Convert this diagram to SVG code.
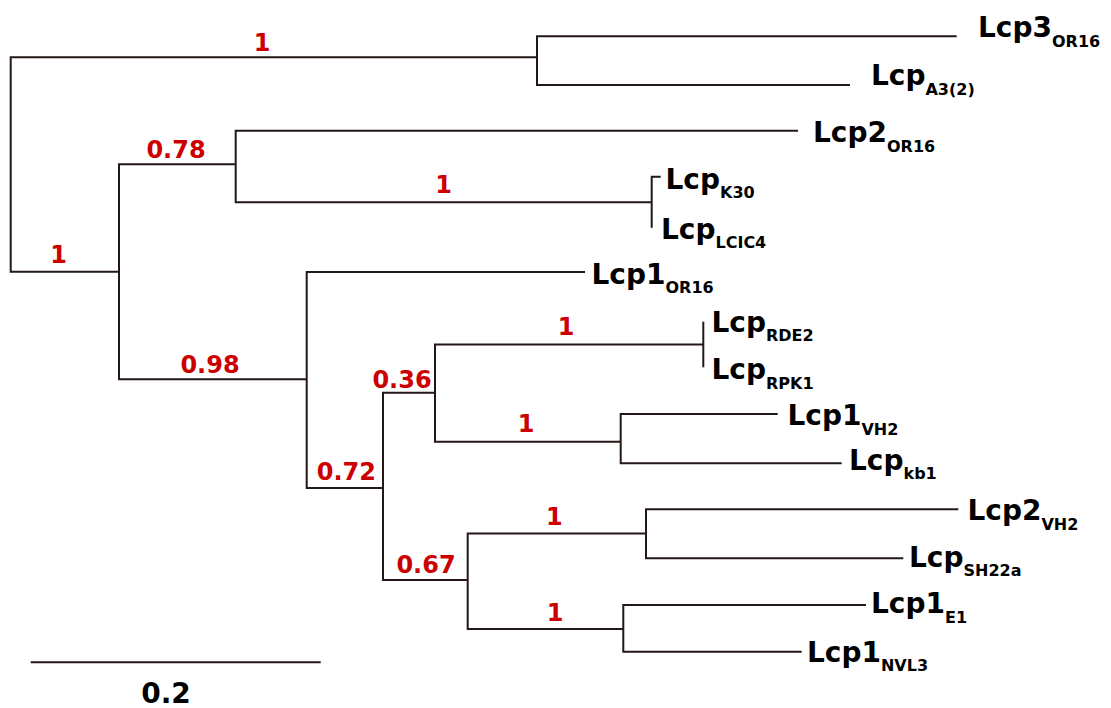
<svg xmlns="http://www.w3.org/2000/svg" width="1111" height="708" viewBox="0 0 1111 708">
  <style>
    .br { fill: none; stroke: #231815; stroke-width: 2; stroke-linejoin: miter; stroke-linecap: butt; }
    .leaf { font-family: "DejaVu Sans", Verdana, sans-serif; font-weight: bold; font-size: 28px; fill: #000; }
    .sub { font-size: 16px; }
    .bs { font-family: "DejaVu Sans", Verdana, sans-serif; font-weight: bold; font-size: 24px; fill: #cc0000; text-anchor: middle; }
    .scale { font-family: "DejaVu Sans", Verdana, sans-serif; font-weight: bold; font-size: 28px; fill: #000; text-anchor: middle; }
  </style>
  <rect width="1111" height="708" fill="#ffffff"/>

  <!-- branches (elbow connectors) -->
  <g id="connectors">
    <path class="br" d="M 537 57.3 H 10.7 V 271.7 H 119"/>
    <path class="br" d="M 956.7 36.3 H 537 V 85 H 850"/>
    <path class="br" d="M 235.7 164.3 H 119 V 379.3 H 306.7"/>
    <path class="br" d="M 798 130.7 H 235.7 V 202.3 H 651.7"/>
    <path class="br" d="M 660.7 176.7 H 651.7 V 227.7"/>
    <path class="br" d="M 585 272 H 306.7 V 488 H 383"/>
    <path class="br" d="M 435 392.7 H 383 V 580 H 467.7"/>
    <path class="br" d="M 703.3 344.5 H 435 V 441.7 H 620.7"/>
    <path class="br" d="M 703.3 321.7 V 367.3"/>
    <path class="br" d="M 777.7 414 H 620.7 V 463.3 H 841.7"/>
    <path class="br" d="M 646 533.5 H 467.7 V 629 H 623.3"/>
    <path class="br" d="M 958.3 509.3 H 646 V 558.3 H 903.3"/>
    <path class="br" d="M 866 605 H 623.3 V 651.7 H 801.7"/>
  </g>

  <!-- internal nodes with support values -->
  <g id="node-root"><text class="bs" x="58.7" y="263.3">1</text></g>
  <g id="node-lcp3-clade"><text class="bs" x="262" y="50.7">1</text></g>
  <g id="node-a"><text class="bs" x="176" y="158.3">0.78</text></g>
  <g id="node-k30-clade"><text class="bs" x="443.7" y="192.7">1</text></g>
  <g id="node-b"><text class="bs" x="210" y="373">0.98</text></g>
  <g id="node-c"><text class="bs" x="346.3" y="480">0.72</text></g>
  <g id="node-d"><text class="bs" x="402" y="387.7">0.36</text></g>
  <g id="node-rde2-clade"><text class="bs" x="566" y="335">1</text></g>
  <g id="node-vh2-clade"><text class="bs" x="526" y="432.3">1</text></g>
  <g id="node-e"><text class="bs" x="426" y="573.3">0.67</text></g>
  <g id="node-sh22a-clade"><text class="bs" x="554.3" y="525.3">1</text></g>
  <g id="node-e1-clade"><text class="bs" x="555" y="620.7">1</text></g>

  <!-- leaves -->
  <g id="leaf-lcp3-or16"><text class="leaf" x="978" y="37">Lcp3<tspan class="sub" dy="9.5">OR16</tspan></text></g>
  <g id="leaf-lcp-a3-2"><text class="leaf" x="871" y="85">Lcp<tspan class="sub" dy="9.5">A3(2)</tspan></text></g>
  <g id="leaf-lcp2-or16"><text class="leaf" x="813" y="142">Lcp2<tspan class="sub" dy="9.5">OR16</tspan></text></g>
  <g id="leaf-lcp-k30"><text class="leaf" x="665.5" y="188.5">Lcp<tspan class="sub" dy="9.5">K30</tspan></text></g>
  <g id="leaf-lcp-lcic4"><text class="leaf" x="661" y="238.5">Lcp<tspan class="sub" dy="9.5">LCIC4</tspan></text></g>
  <g id="leaf-lcp1-or16"><text class="leaf" x="591.5" y="283.5">Lcp1<tspan class="sub" dy="9.5">OR16</tspan></text></g>
  <g id="leaf-lcp-rde2"><text class="leaf" x="711.5" y="331.7">Lcp<tspan class="sub" dy="9.5">RDE2</tspan></text></g>
  <g id="leaf-lcp-rpk1"><text class="leaf" x="711.5" y="379.3">Lcp<tspan class="sub" dy="9.5">RPK1</tspan></text></g>
  <g id="leaf-lcp1-vh2"><text class="leaf" x="787.5" y="425">Lcp1<tspan class="sub" dy="9.5">VH2</tspan></text></g>
  <g id="leaf-lcp-kb1"><text class="leaf" x="849" y="469.5">Lcp<tspan class="sub" dy="9.5">kb1</tspan></text></g>
  <g id="leaf-lcp2-vh2"><text class="leaf" x="967.5" y="520">Lcp2<tspan class="sub" dy="9.5">VH2</tspan></text></g>
  <g id="leaf-lcp-sh22a"><text class="leaf" x="909" y="566.7">Lcp<tspan class="sub" dy="9.5">SH22a</tspan></text></g>
  <g id="leaf-lcp1-e1"><text class="leaf" x="871" y="613.3">Lcp1<tspan class="sub" dy="9.5">E1</tspan></text></g>
  <g id="leaf-lcp1-nvl3"><text class="leaf" x="807" y="661.7">Lcp1<tspan class="sub" dy="9.5">NVL3</tspan></text></g>

  <!-- scale bar -->
  <g id="scale-bar">
    <path class="br" d="M 30.7 662.3 H 320.7"/>
    <text class="scale" x="166" y="703">0.2</text>
  </g>
</svg>
